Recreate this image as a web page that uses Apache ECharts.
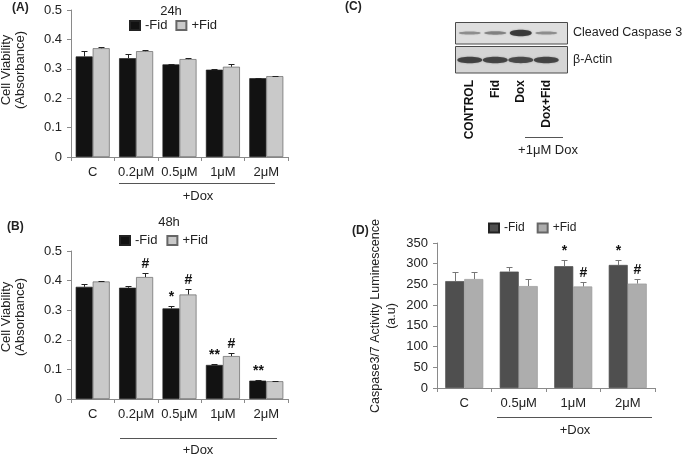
<!DOCTYPE html>
<html><head><meta charset="utf-8">
<script src="https://cdn.jsdelivr.net/npm/echarts/dist/echarts.min.js"></script>
<style>html,body{margin:0;padding:0;background:#fff}#c{width:682px;height:455px}</style>
</head><body><div id="c"></div>
<script>
// ---------- data ----------
const viabilityCats = ['C', '0.2μM', '0.5μM', '1μM', '2μM'];
const viabilityTicks = ['0', '0.1', '0.2', '0.3', '0.4', '0.5'];

const h24NoFid = [0.342, 0.336, 0.315, 0.297, 0.268];
const h24NoFidErr = [0.019, 0.015, 0.003, 0.002, 0.002];
const h24Fid = [0.370, 0.360, 0.333, 0.307, 0.275];
const h24FidErr = [0.003, 0.005, 0.003, 0.008, 0.002];

const h48NoFid = [0.379, 0.376, 0.306, 0.115, 0.062];
const h48NoFidErr = [0.008, 0.006, 0.007, 0.002, 0.001];
const h48Fid = [0.397, 0.412, 0.353, 0.145, 0.060];
const h48FidErr = [0.003, 0.014, 0.017, 0.009, 0.002];
const h48NoFidMarks = ['', '', '*', '**', '**'];
const h48FidMarks = ['', '#', '#', '#', ''];

const caspCats = ['C', '0.5μM', '1μM', '2μM'];
const caspTicks = ['0', '50', '100', '150', '200', '250', '300', '350'];
const caspNoFid = [258, 281, 294, 297];
const caspNoFidErr = [21, 12, 16, 11];
const caspFid = [263, 246, 245, 252];
const caspFidErr = [17, 18, 10, 10];
const caspNoFidMarks = ['', '', '*', '*'];
const caspFidMarks = ['', '', '#', '#'];

const blotLanes = ['CONTROL', 'Fid', 'Dox', 'Dox+Fid'];
const cleavedCasp3Band = [0.30, 0.38, 1.00, 0.30];
const actinBand = [0.92, 0.90, 0.86, 0.90];

// ---------- helpers ----------
const FONT = '"Liberation Sans", Arial, Helvetica, sans-serif';
const AX = '#8a8a8a';

function catX(gi, cats) {
  return {
    gridIndex: gi, type: 'category', data: cats,
    axisLine: { show: true, lineStyle: { color: AX, width: 1 } },
    axisTick: { show: true, length: 4, lineStyle: { color: AX } },
    axisLabel: { margin: 9, fontSize: 13, color: '#222', fontFamily: FONT, interval: 0 },
    splitLine: { show: false }
  };
}
function valY(gi, max, interval, ticks) {
  return {
    gridIndex: gi, type: 'value', min: 0, max: max, interval: interval,
    axisLine: { show: true, lineStyle: { color: AX, width: 1 } },
    axisTick: { show: true, length: 4, lineStyle: { color: AX } },
    axisLabel: { margin: 9, fontSize: 13, color: '#222', fontFamily: FONT,
      formatter: (v, i) => ticks[i] },
    splitLine: { show: false }
  };
}
function bars(name, gi, data, bw, color, border) {
  return {
    type: 'bar', name: name, xAxisIndex: gi, yAxisIndex: gi, data: data,
    barWidth: bw, barGap: '0%', z: 2,
    itemStyle: { color: color, borderColor: border, borderWidth: 0.7 }
  };
}
function errs(name, gi, vals, errv, marks, side, bw, color) {
  return {
    type: 'custom', name: name, xAxisIndex: gi, yAxisIndex: gi, z: 4,
    data: vals.map((v, i) => [i, v, errv[i]]),
    renderItem: function (params, api) {
      const i = api.value(0), v = api.value(1), e = api.value(2);
      const base = api.coord([i, v]);
      const top = api.coord([i, v + e]);
      const x = Math.round(base[0] + side * bw / 2) + 0.5;
      const ty = Math.round(top[1]) + 0.5;
      const ch = [
        { type: 'line', shape: { x1: x, y1: base[1], x2: x, y2: ty }, style: { stroke: color, lineWidth: 1 } },
        { type: 'line', shape: { x1: x - 3, y1: ty, x2: x + 3, y2: ty }, style: { stroke: color, lineWidth: 1 } }
      ];
      const m = marks ? marks[params.dataIndex] : '';
      if (m) {
        ch.push({ type: 'text', x: x, y: ty - 2,
          style: { text: m, align: 'center', verticalAlign: 'bottom', fontSize: 14,
            fontWeight: 'bold', fontFamily: FONT, fill: '#111' } });
      }
      return { type: 'group', children: ch };
    }
  };
}
function txt(x, y, text, opt) {
  return Object.assign({ type: 'text', x: x, y: y, z: 10,
    style: Object.assign({ text: text, fontFamily: FONT, fontSize: 13, fill: '#222',
      align: 'center', verticalAlign: 'middle' }, opt || {}) });
}
function rtxt(x, y, text, size, lh) {
  return { type: 'text', x: x, y: y, rotation: Math.PI / 2, z: 10,
    style: { text: text, fontFamily: FONT, fontSize: size, lineHeight: lh, fill: '#222',
      align: 'center', verticalAlign: 'middle' } };
}
function hline(x1, x2, y) {
  return { type: 'line', z: 10, shape: { x1: x1, y1: y + 0.5, x2: x2, y2: y + 0.5 },
    style: { stroke: '#555', lineWidth: 1 } };
}
function legend(left, top, gap, size, c1, c2) {
  return {
    left: left, top: top, orient: 'horizontal', icon: 'rect', itemWidth: 10, itemHeight: 9,
    itemGap: gap, selectedMode: false, padding: 0,
    textStyle: { fontSize: size, color: '#222', fontFamily: FONT },
    data: [{ name: '-Fid', itemStyle: { color: c1 } }, { name: '+Fid', itemStyle: { color: c2 } }]
  };
}
function bandSeries(gi, vals, w, hBase, hScale) {
  return {
    type: 'scatter', xAxisIndex: gi, yAxisIndex: gi, z: 5, silent: true,
    symbol: 'path://M0,50 C0,-15 100,-15 100,50 C100,115 0,115 0,50 Z',
    data: vals.map((v, i) => [i, 0, v]),
    symbolSize: (val) => [w, hBase + hScale * val[2]],
    itemStyle: {
      color: (p) => 'rgba(25,25,25,' + (0.2 + 0.75 * p.value[2]).toFixed(2) + ')',
      shadowBlur: 2, shadowColor: 'rgba(0,0,0,0.35)'
    }
  };
}

const BLACK = '#121212', LGRAY = '#c9c9c9', DGRAY = '#4f4f4f', MGRAY = '#adadad';

const option = {
  animation: false,
  backgroundColor: '#fff',
  textStyle: { fontFamily: FONT },
  grid: [
    { left: 71, top: 10, width: 217, height: 147, outerBoundsMode: 'none' },
    { left: 71, top: 251, width: 217, height: 148, outerBoundsMode: 'none' },
    { left: 437, top: 243, width: 218, height: 145, outerBoundsMode: 'none' },
    { left: 457, top: 22, width: 102, height: 22, outerBoundsMode: 'none' },
    { left: 457, top: 47, width: 102, height: 26, outerBoundsMode: 'none' }
  ],
  xAxis: [
    catX(0, viabilityCats), catX(1, viabilityCats), catX(2, caspCats),
    { gridIndex: 3, type: 'category', data: blotLanes, show: false },
    { gridIndex: 4, type: 'category', data: blotLanes,
      axisLine: { show: false }, axisTick: { show: false },
      axisLabel: { rotate: 90, margin: 7, fontSize: 12, fontWeight: 'bold', color: '#111', fontFamily: FONT, interval: 0 } }
  ],
  yAxis: [
    valY(0, 0.5, 0.1, viabilityTicks), valY(1, 0.5, 0.1, viabilityTicks), valY(2, 350, 50, caspTicks),
    { gridIndex: 3, type: 'category', data: ['Cleaved Caspase 3'], position: 'right',
      axisLine: { show: false }, axisTick: { show: false },
      axisLabel: { margin: 14, fontSize: 12.5, color: '#222', fontFamily: FONT, overflow: 'none' } },
    { gridIndex: 4, type: 'category', data: ['β-Actin'], position: 'right',
      axisLine: { show: false }, axisTick: { show: false },
      axisLabel: { margin: 14, fontSize: 12.5, color: '#222', fontFamily: FONT } }
  ],
  legend: [
    legend(129, 19, 8, 13, BLACK, LGRAY),
    legend(119, 234, 9, 13, BLACK, LGRAY),
    legend(488, 222, 12, 12, DGRAY, MGRAY)
  ],
  series: [
    bars('-Fid', 0, h24NoFid, 17, BLACK, '#222'),
    bars('+Fid', 0, h24Fid, 17, LGRAY, '#666'),
    errs('e1', 0, h24NoFid, h24NoFidErr, null, -1, 17, '#222'),
    errs('e2', 0, h24Fid, h24FidErr, null, 1, 17, '#222'),

    bars('-Fid', 1, h48NoFid, 17, BLACK, '#222'),
    bars('+Fid', 1, h48Fid, 17, LGRAY, '#666'),
    errs('e3', 1, h48NoFid, h48NoFidErr, h48NoFidMarks, -1, 17, '#222'),
    errs('e4', 1, h48Fid, h48FidErr, h48FidMarks, 1, 17, '#222'),

    bars('-Fid', 2, caspNoFid, 19, DGRAY, DGRAY),
    bars('+Fid', 2, caspFid, 19, MGRAY, '#999'),
    errs('e5', 2, caspNoFid, caspNoFidErr, caspNoFidMarks, -1, 19, '#777'),
    errs('e6', 2, caspFid, caspFidErr, caspFidMarks, 1, 19, '#777'),

    bandSeries(3, cleavedCasp3Band, 22, 1.5, 5),
    bandSeries(4, actinBand, 25, 2, 5)
  ],
  graphic: [
    { type: 'rect', z: 0, shape: { x: 455.5, y: 22.5, width: 112, height: 21.5 },
      style: { fill: '#dedede', stroke: '#4a4a4a', lineWidth: 1 } },
    { type: 'rect', z: 0, shape: { x: 455.5, y: 46.5, width: 112, height: 26.5 },
      style: { fill: '#d5d5d5', stroke: '#4a4a4a', lineWidth: 1 } },
    txt(12, 8, '(A)', { fontWeight: 'bold', fontSize: 12, align: 'left' }),
    txt(7, 227, '(B)', { fontWeight: 'bold', fontSize: 12, align: 'left' }),
    txt(345, 7, '(C)', { fontWeight: 'bold', fontSize: 12, align: 'left' }),
    txt(352, 231, '(D)', { fontWeight: 'bold', fontSize: 12, align: 'left' }),
    txt(171, 11, '24h'),
    txt(169, 222, '48h'),
    rtxt(13, 70, 'Cell Viability\n(Absorbance)', 13, 14),
    rtxt(13, 317, 'Cell Viability\n(Absorbance)', 13, 14),
    rtxt(384, 316, 'Caspase3/7 Activity Luminescence\n(a.u)', 12.5, 16),
    hline(119, 275, 183), txt(198, 196, '+Dox'),
    hline(120, 277, 438), txt(198, 450, '+Dox'),
    hline(497, 652, 417), txt(575, 430, '+Dox'),
    hline(525, 563, 137), txt(548, 150, '+1μM Dox')
  ]
};

const chart = echarts.init(document.getElementById('c'), null, { renderer: 'canvas' });
chart.setOption(option);
</script>
</body></html>
